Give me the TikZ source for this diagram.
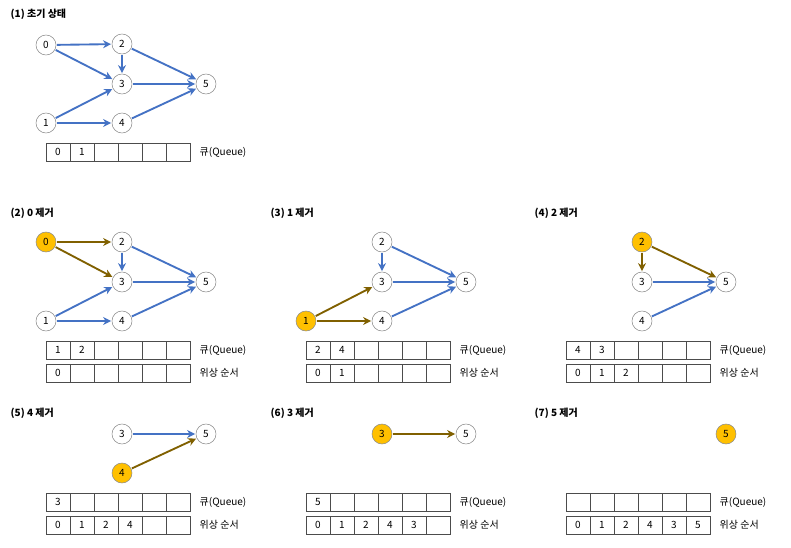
\documentclass[tikz,border=0pt]{standalone}
\usepackage{fontspec}
\setmainfont{Noto Sans CJK KR}
\usetikzlibrary{arrows.meta}
\definecolor{blu}{HTML}{4472C4}
\definecolor{oli}{HTML}{806000}
\definecolor{yel}{HTML}{FFC000}
\tikzset{
 v/.style={circle,draw=black!45,fill=white,minimum size=15pt,inner sep=0pt,font=\fontsize{7.5}{8}\selectfont},
 hv/.style={v,fill=yel},
 e/.style={-{Stealth[length=6pt,width=6pt]},line width=1.4pt,blu,shorten <=0.5pt,shorten >=0.5pt},
 he/.style={e,oli},
 ttl/.style={anchor=west,font=\bfseries\fontsize{7.5}{8}\selectfont},
 cell/.style={draw=black!70,line width=0.5pt,minimum width=18pt,minimum height=13.5pt,inner sep=0pt,font=\fontsize{7.5}{8}\selectfont,anchor=west},
 lab/.style={anchor=west,font=\fontsize{7.5}{8}\selectfont}
}
\newcommand{\qrow}[4]{% prefix, x, y, list
 \foreach \k in {0,...,5}{\node[cell] (#1c\k) at ({#2+24*\k},#3) {};}
 \foreach \t [count=\i from 0] in {#4}{\node[font=\fontsize{7.5}{8}\selectfont] at ({#2+24*\i+12},#3) {\t};}
}
\begin{document}
\begin{tikzpicture}[x=0.75pt,y=-0.75pt]
\useasboundingbox (0,0) rectangle (791,547);
% panel 1
\node[ttl] (t1) at (6,14) {(1) 초기 상태};
\node[v] (a0) at (46,45) {0}; \node[v] (a2) at (122,44) {2}; \node[v] (a3) at (122,84) {3};
\node[v] (a5) at (206,84) {5}; \node[v] (a1) at (46,123) {1}; \node[v] (a4) at (122,123) {4};
\foreach \s/\t in {0/2,0/3,2/3,2/5,3/5,1/3,1/4,4/5}{\draw[e] (a\s)--(a\t);}
\foreach \k in {0,...,5}{\node[cell] (q1c\k) at ({46+24*\k},152) {};}
\node at (58,152) {\fontsize{7.5}{8}\selectfont 0}; \node at (82,152) {\fontsize{7.5}{8}\selectfont 1};
\node[lab] (l1) at (195,152) {큐(Queue)};
% panel 2
\node[ttl] (t2) at (6,213) {(2) 0 제거};
\node[hv] (b0) at (46,242) {0}; \node[v] (b2) at (122,242) {2}; \node[v] (b3) at (122,282) {3};
\node[v] (b5) at (206,282) {5}; \node[v] (b1) at (46,321) {1}; \node[v] (b4) at (122,321) {4};
\foreach \s/\t in {2/3,2/5,3/5,1/3,1/4,4/5}{\draw[e] (b\s)--(b\t);}
\foreach \s/\t in {0/2,0/3}{\draw[he] (b\s)--(b\t);}
\qrow{q2}{46}{350}{1,2} \node[lab] at (195,350) {큐(Queue)};
\qrow{o2}{46}{373}{0} \node[lab] at (195,373) {위상 순서};
% panel 3
\node[ttl] (t3) at (266,213) {(3) 1 제거};
\node[v] (c2) at (382,242) {2}; \node[v] (c3) at (382,282) {3};
\node[v] (c5) at (466,282) {5}; \node[hv] (c1) at (306,321) {1}; \node[v] (c4) at (382,321) {4};
\foreach \s/\t in {2/3,2/5,3/5,4/5}{\draw[e] (c\s)--(c\t);}
\foreach \s/\t in {1/3,1/4}{\draw[he] (c\s)--(c\t);}
\qrow{q3}{306}{350}{2,4} \node[lab] at (455,350) {큐(Queue)};
\qrow{o3}{306}{373}{0,1} \node[lab] at (455,373) {위상 순서};
% panel 4
\node[ttl] (t4) at (530,213) {(4) 2 제거};
\node[hv] (d2) at (642,242) {2}; \node[v] (d3) at (642,282) {3};
\node[v] (d5) at (726,282) {5}; \node[v] (d4) at (642,321) {4};
\foreach \s/\t in {3/5,4/5}{\draw[e] (d\s)--(d\t);}
\foreach \s/\t in {2/3,2/5}{\draw[he] (d\s)--(d\t);}
\qrow{q4}{566}{350}{4,3} \node[lab] at (715,350) {큐(Queue)};
\qrow{o4}{566}{373}{0,1,2} \node[lab] at (715,373) {위상 순서};
% panel 5
\node[ttl] (t5) at (6,413) {(5) 4 제거};
\node[v] (f3) at (122,434) {3}; \node[v] (f5) at (206,434) {5}; \node[hv] (f4) at (122,473) {4};
\draw[e] (f3)--(f5); \draw[he] (f4)--(f5);
\qrow{q5}{46}{502}{3} \node[lab] at (195,502) {큐(Queue)};
\qrow{o5}{46}{525}{0,1,2,4} \node[lab] at (195,525) {위상 순서};
% panel 6
\node[ttl] (t6) at (266,413) {(6) 3 제거};
\node[hv] (g3) at (382,434) {3}; \node[v] (g5) at (466,434) {5};
\draw[he] (g3)--(g5);
\qrow{q6}{306}{502}{5} \node[lab] at (455,502) {큐(Queue)};
\qrow{o6}{306}{525}{0,1,2,4,3} \node[lab] at (455,525) {위상 순서};
% panel 7
\node[ttl] (t7) at (530,413) {(7) 5 제거};
\node[hv] (h5) at (726,434) {5};
\foreach \k in {0,...,5}{\node[cell] (q7c\k) at ({566+24*\k},502) {};}
\node[lab] at (715,502) {큐(Queue)};
\qrow{o7}{566}{525}{0,1,2,4,3,5} \node[lab] at (715,525) {위상 순서};
\end{tikzpicture}
\end{document}
